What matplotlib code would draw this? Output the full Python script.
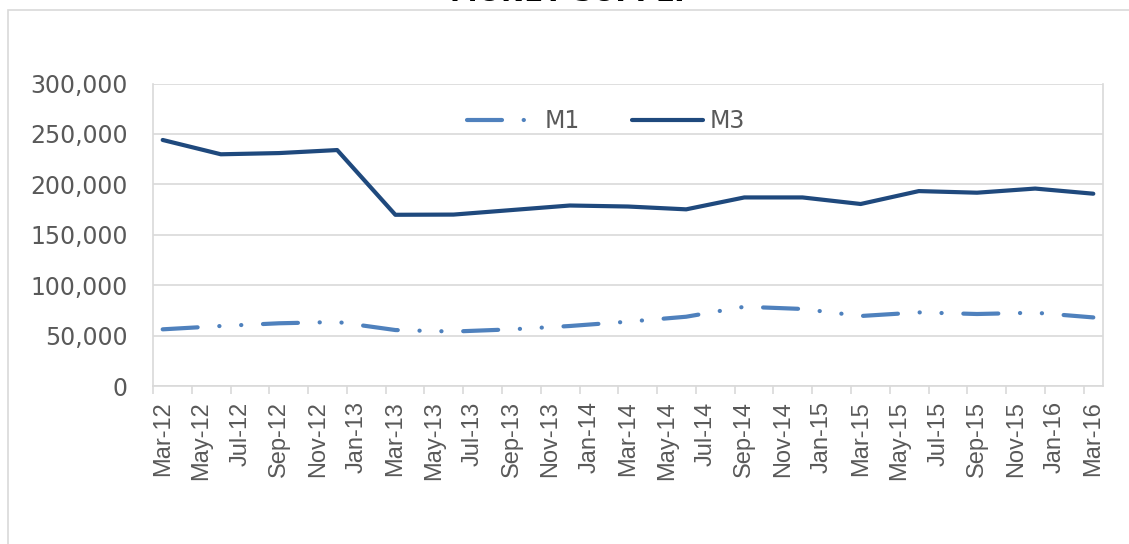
import matplotlib
matplotlib.use("Agg")
import matplotlib.pyplot as plt
from matplotlib.patches import Rectangle

# ---- data ----
tick_labels = ["Mar-12", "May-12", "Jul-12", "Sep-12", "Nov-12", "Jan-13", "Mar-13",
               "May-13", "Jul-13", "Sep-13", "Nov-13", "Jan-14", "Mar-14", "May-14",
               "Jul-14", "Sep-14", "Nov-14", "Jan-15", "Mar-15", "May-15", "Jul-15",
               "Sep-15", "Nov-15", "Jan-16", "Mar-16"]
# quarterly observations, months since Mar-12
obs_months = [0, 3, 6, 9, 12, 15, 18, 21, 24, 27, 30, 33, 36, 39, 42, 45, 48]
m1 = [56200, 59500, 62200, 63500, 55500, 54000, 56200, 59500, 63800, 68700,
      78600, 76400, 69400, 73000, 71400, 72700, 68000]
m3 = [244000, 229800, 231000, 234000, 169800, 170000, 174500, 179000, 178000,
      175200, 187000, 187000, 180500, 193300, 191700, 195800, 190700]
series_names = ["M1", "M3"]
title = "MONEY SUPPLY"

plt.rcParams['font.family'] = ['Liberation Sans', 'DejaVu Sans']
W, H = 1129, 544
fig = plt.figure(figsize=(W / 100, H / 100), dpi=100)

# chart area border
fig.patches.append(Rectangle((8 / W, -0.1), 1.2, (H - 10) / H + 0.1,
                             transform=fig.transFigure, fill=False,
                             edgecolor='#d9d9d9', linewidth=1.2))
fig.text(570 / W, 1 - 1.0 / H, title, ha='center', va='baseline',
         fontsize=20, fontweight='bold', color='black', family='DejaVu Sans')

ax = fig.add_axes([153 / W, (H - 386) / H, 950 / W, (386 - 83.5) / H])

c1 = '#4F81BD'
c3 = '#1F497D'
lw = 3.0
ls_m1 = (0, (8.4, 5.2, 0.05, 5.2, 0.05, 5.2))
l1, = ax.plot(obs_months, m1, color=c1, lw=lw, linestyle=ls_m1,
              dash_capstyle='round', solid_capstyle='round', label=series_names[0], zorder=3)
l3, = ax.plot(obs_months, m3, color=c3, lw=lw, solid_capstyle='round',
              solid_joinstyle='round', label=series_names[1], zorder=3)

ax.set_xlim(-0.5, 48.5)
ax.set_ylim(0, 300000)
ax.set_yticks(range(0, 300001, 50000))
ax.set_yticklabels([f"{v:,}" for v in range(0, 300001, 50000)], family='DejaVu Sans')
ax.yaxis.grid(True, color='#d9d9d9', linewidth=1.2)
ax.set_axisbelow(True)
ax.tick_params(axis='y', length=0, pad=18, labelsize=17, labelcolor='#595959')

# tick marks at band edges, labels at band centers
ax.set_xticks([-0.5 + 2 * k for k in range(len(tick_labels))])
ax.set_xticklabels([])
ax.set_xticks([2 * k for k in range(len(tick_labels))], minor=True)
ax.set_xticklabels(tick_labels, minor=True, rotation=90)
ax.tick_params(axis='x', which='major', length=6, color='#d9d9d9', width=1.2)
ax.tick_params(axis='x', which='minor', length=0, pad=11, labelsize=17,
               labelcolor='#595959')

for s in ['left', 'right', 'bottom', 'top']:
    ax.spines[s].set_color('#d9d9d9')
    ax.spines[s].set_linewidth(1.2)
ax.spines['top'].set_visible(False)

leg = ax.legend(handles=[l1, l3], loc='center', bbox_to_anchor=(606 / W, (H - 121) / H),
                bbox_transform=fig.transFigure, ncol=2, frameon=False,
                prop={'family': 'DejaVu Sans', 'size': 17},
                handlelength=3.0, columnspacing=2.2, handletextpad=0.3)
for t in leg.get_texts():
    t.set_color('#595959')

fig.savefig('out.png', dpi=100)
